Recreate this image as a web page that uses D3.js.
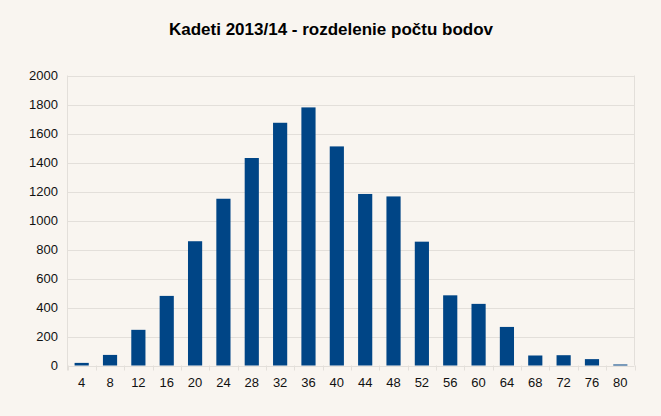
<!DOCTYPE html>
<html><head><meta charset="utf-8">
<script src="https://cdn.jsdelivr.net/npm/d3@7"></script>
<style>body{margin:0;background:#f9f5f0;}svg{display:block;}</style>
</head><body>
<script>
const categories = ["4","8","12","16","20","24","28","32","36","40","44","48","52","56","60","64","68","72","76","80"];
const counts = [18,73,246,480,857,1150,1431,1674,1780,1511,1183,1166,854,484,425,266,69,71,44,7];
const yTicks = [0,200,400,600,800,1000,1200,1400,1600,1800,2000];
const title = "Kadeti 2013/14 - rozdelenie počtu bodov";

const W=661,H=416;
const m={l:67.5,r:634.5,t:75.5,b:365.5};
const svg=d3.select("body").append("svg").attr("width",W).attr("height",H);
svg.append("rect").attr("width",W).attr("height",H).attr("fill","#f9f5f0");
const x=d3.scaleBand().domain(categories).range([m.l,m.r]).paddingInner(0.5).paddingOuter(0.25);
const y=d3.scaleLinear().domain([0,2000]).range([m.b,m.t]);
const font="'Liberation Sans', Arial, sans-serif";

// grid
svg.append("g").selectAll("line").data(yTicks).join("line")
 .attr("x1",m.l).attr("x2",m.r).attr("y1",d=>Math.round(y(d))+0.5).attr("y2",d=>Math.round(y(d))+0.5)
 .attr("stroke","#e3dfda").attr("stroke-width",1);
// right border
svg.append("line").attr("x1",m.r).attr("x2",m.r).attr("y1",m.t).attr("y2",m.b).attr("stroke","#e3dfda");
// left axis
svg.append("line").attr("x1",m.l).attr("x2",m.l).attr("y1",m.t).attr("y2",m.b+5).attr("stroke","#e3dfda");
// x ticks at band boundaries
const step=x.step();
const bounds=d3.range(categories.length+1).map(i=>m.l+i*(m.r-m.l)/categories.length);
svg.append("g").selectAll("line").data(bounds).join("line")
 .attr("x1",d=>Math.round(d)+0.5).attr("x2",d=>Math.round(d)+0.5).attr("y1",m.b).attr("y2",m.b+5)
 .attr("stroke","#e3dfda");

// bars
svg.append("g").selectAll("rect").data(counts).join("rect")
 .attr("x",(d,i)=>x(categories[i])).attr("width",x.bandwidth())
 .attr("y",d=>y(d)).attr("height",d=>y(0)-y(d))
 .attr("fill","#004586");

// y labels
svg.append("g").selectAll("text").data(yTicks).join("text")
 .attr("x",58).attr("y",d=>y(d)).attr("dy","0.35em").attr("text-anchor","end")
 .attr("font-family",font).attr("font-size",13).attr("fill","#111").text(d=>d);
// x labels
svg.append("g").selectAll("text").data(categories).join("text")
 .attr("x",d=>x(d)+x.bandwidth()/2).attr("y",387).attr("text-anchor","middle")
 .attr("font-family",font).attr("font-size",13).attr("fill","#111").text(d=>d);
// title
svg.append("text").attr("x",331).attr("y",35).attr("text-anchor","middle")
 .attr("font-family",font).attr("font-size",17).attr("font-weight","bold").attr("fill","#000").text(title);
</script>
</body></html>
